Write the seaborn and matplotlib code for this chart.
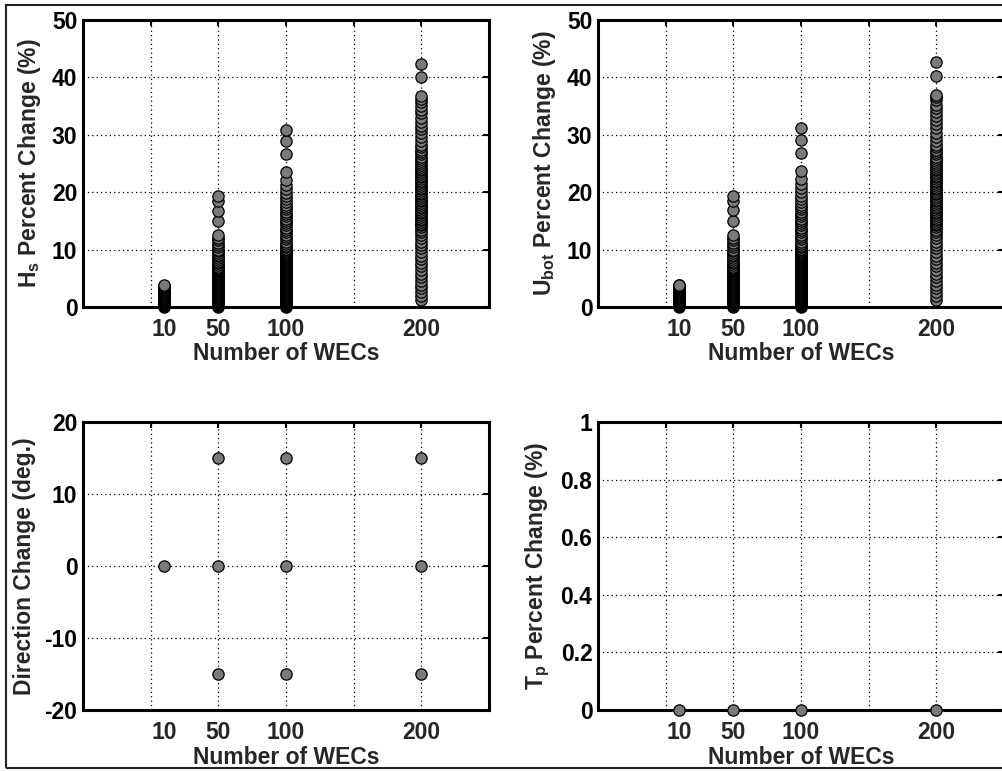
import matplotlib
matplotlib.use("Agg")
import matplotlib.pyplot as plt
import seaborn as sns
import pandas as pd
from matplotlib.ticker import FuncFormatter
from matplotlib.patches import Rectangle

# ---------------- data ----------------
wec_ticks = [10, 50, 100, 200]
wec_tick_labels = ["10", "50", "100", "200"]

hs_10 = [0.0, 0.1, 0.2, 0.3, 0.35, 0.45, 0.55, 0.6, 0.7, 0.8, 0.9, 1.0, 1.1, 1.2, 1.3,
         1.4, 1.5, 1.6, 1.7, 1.8, 1.9, 2.0, 2.1, 2.2, 2.3, 2.4, 2.5, 2.6, 2.7, 2.8,
         2.9, 3.0, 3.1, 3.2, 3.3, 3.4, 3.5, 3.6, 3.7, 3.8]
hs_50 = [0.0, 0.1, 0.2, 0.3, 0.4, 0.5, 0.6, 0.7, 0.8, 0.9, 1.0, 1.1, 1.2, 1.3, 1.4,
         1.5, 1.6, 1.7, 1.8, 1.9, 2.0, 2.1, 2.2, 2.3, 2.4, 2.5, 2.6, 2.7, 2.8, 2.9,
         3.0, 3.1, 3.2, 3.3, 3.4, 3.5, 3.6, 3.7, 3.8, 3.9, 4.0, 4.1, 4.2, 4.3, 4.4,
         4.5, 4.6, 4.7, 4.8, 4.9, 5.0, 5.1, 5.2, 5.3, 5.4, 5.5, 5.6, 5.7, 5.8, 5.9,
         6.0, 6.1, 6.2, 6.3, 6.4, 6.5, 6.6, 6.7, 6.8, 6.9, 7.0, 7.3, 7.6, 7.9, 8.2,
         8.5, 8.8, 9.1, 9.4, 9.7, 10.0, 10.4, 10.8, 11.2, 11.6, 12.0, 12.5,
         14.9, 16.8, 18.4, 19.3]
hs_100 = [0.0, 0.1, 0.2, 0.3, 0.4, 0.5, 0.6, 0.7, 0.8, 0.9, 1.0, 1.1, 1.2, 1.3, 1.4,
          1.5, 1.6, 1.7, 1.8, 1.9, 2.0, 2.1, 2.2, 2.3, 2.4, 2.5, 2.6, 2.7, 2.8, 2.9,
          3.0, 3.1, 3.2, 3.3, 3.4, 3.5, 3.6, 3.7, 3.8, 3.9, 4.0, 4.1, 4.2, 4.3, 4.4,
          4.5, 4.6, 4.7, 4.8, 4.9, 5.0, 5.1, 5.2, 5.3, 5.4, 5.5, 5.6, 5.7, 5.8, 5.9,
          6.0, 6.1, 6.2, 6.3, 6.4, 6.5, 6.6, 6.7, 6.8, 6.9, 7.0, 7.1, 7.2, 7.3, 7.4,
          7.5, 7.6, 7.7, 7.8, 7.9, 8.0, 8.1, 8.2, 8.3, 8.4, 8.5, 8.6, 8.7, 8.8, 8.9,
          9.0, 9.15, 9.3, 9.45, 9.6, 9.75, 9.9, 10.1, 10.4, 10.7, 11.0, 11.4, 11.8,
          12.2, 12.6, 13.0, 13.4, 13.8, 14.2, 14.6, 15.0, 15.4, 15.8, 16.2, 16.6,
          17.0, 17.4, 17.8, 18.3, 18.8, 19.3, 19.9, 20.6, 21.3, 22.2, 23.6, 26.7,
          29.0, 30.9]
hs_200 = [1.3, 2.0, 2.6, 3.3, 3.9, 4.5, 5.2, 5.8, 6.4, 7.1, 7.7, 8.3, 8.9, 9.5, 10.2,
          10.8, 11.4, 12.0, 12.6, 13.1, 13.5, 13.9, 14.2, 14.5, 14.8, 15.1, 15.4,
          15.7, 16.0, 16.3, 16.6, 16.9, 17.2, 17.5, 17.8, 18.1, 18.4, 18.7, 19.0,
          19.3, 19.6, 19.9, 20.2, 20.5, 20.8, 21.1, 21.4, 21.7, 22.0, 22.3, 22.6,
          22.9, 23.2, 23.5, 23.8, 24.1, 24.4, 24.7, 25.0, 25.4, 25.8, 26.2, 26.6,
          27.0, 27.4, 27.8, 28.3, 29.0, 29.6, 30.3, 31.0, 31.6, 32.3, 33.0, 33.8,
          34.4, 35.0, 35.8, 36.3, 36.8, 40.0, 42.3]

ub_10 = [0.0, 0.1, 0.2, 0.3, 0.4, 0.5, 0.6, 0.7, 0.8, 0.9, 1.0, 1.1, 1.2, 1.3, 1.4,
         1.5, 1.6, 1.7, 1.8, 1.9, 2.0, 2.1, 2.2, 2.3, 2.4, 2.5, 2.6, 2.7, 2.8, 2.9,
         3.0, 3.1, 3.2, 3.3, 3.4, 3.5, 3.6, 3.7, 3.8, 3.9]
ub_50 = [0.0, 0.1, 0.2, 0.3, 0.4, 0.5, 0.6, 0.7, 0.8, 0.9, 1.0, 1.1, 1.2, 1.3, 1.4,
         1.5, 1.6, 1.7, 1.8, 1.9, 2.0, 2.1, 2.2, 2.3, 2.4, 2.5, 2.6, 2.7, 2.8, 2.9,
         3.0, 3.1, 3.2, 3.3, 3.4, 3.5, 3.6, 3.7, 3.8, 3.9, 4.0, 4.1, 4.2, 4.3, 4.4,
         4.5, 4.6, 4.7, 4.8, 4.9, 5.0, 5.1, 5.2, 5.3, 5.4, 5.5, 5.6, 5.7, 5.8, 5.9,
         6.0, 6.1, 6.2, 6.3, 6.4, 6.5, 6.6, 6.7, 6.8, 6.9, 7.0, 7.3, 7.6, 7.9, 8.2,
         8.5, 8.8, 9.1, 9.4, 9.7, 10.0, 10.4, 10.8, 11.2, 11.7, 12.1, 12.6,
         15.0, 16.9, 18.5, 19.4]
ub_100 = [0.0, 0.1, 0.2, 0.3, 0.4, 0.5, 0.6, 0.7, 0.8, 0.9, 1.0, 1.1, 1.2, 1.3, 1.4,
          1.5, 1.6, 1.7, 1.8, 1.9, 2.0, 2.1, 2.2, 2.3, 2.4, 2.5, 2.6, 2.7, 2.8, 2.9,
          3.0, 3.1, 3.2, 3.3, 3.4, 3.5, 3.6, 3.7, 3.8, 3.9, 4.0, 4.1, 4.2, 4.3, 4.4,
          4.5, 4.6, 4.7, 4.8, 4.9, 5.0, 5.1, 5.2, 5.3, 5.4, 5.5, 5.6, 5.7, 5.8, 5.9,
          6.0, 6.1, 6.2, 6.3, 6.4, 6.5, 6.6, 6.7, 6.8, 6.9, 7.0, 7.1, 7.2, 7.3, 7.4,
          7.5, 7.6, 7.7, 7.8, 7.9, 8.0, 8.1, 8.2, 8.3, 8.4, 8.5, 8.6, 8.7, 8.8, 8.9,
          9.0, 9.15, 9.3, 9.45, 9.6, 9.75, 9.9, 10.1, 10.4, 10.7, 11.0, 11.4, 11.8,
          12.2, 12.6, 13.0, 13.4, 13.8, 14.2, 14.6, 15.0, 15.4, 15.8, 16.2, 16.6,
          17.0, 17.4, 17.8, 18.3, 18.8, 19.4, 20.0, 20.7, 21.4, 22.3, 23.7, 26.8,
          29.1, 31.1]
ub_200 = [1.3, 2.0, 2.6, 3.3, 3.9, 4.5, 5.2, 5.8, 6.4, 7.1, 7.7, 8.3, 8.9, 9.5, 10.2,
          10.8, 11.4, 12.0, 12.6, 13.1, 13.5, 13.9, 14.2, 14.5, 14.8, 15.1, 15.4,
          15.7, 16.0, 16.3, 16.6, 16.9, 17.2, 17.5, 17.8, 18.1, 18.4, 18.7, 19.0,
          19.3, 19.6, 19.9, 20.2, 20.5, 20.8, 21.1, 21.4, 21.7, 22.0, 22.3, 22.6,
          22.9, 23.2, 23.5, 23.8, 24.1, 24.4, 24.7, 25.0, 25.4, 25.8, 26.2, 26.6,
          27.0, 27.4, 27.8, 28.3, 29.0, 29.7, 30.4, 31.1, 31.8, 32.5, 33.2, 34.0,
          34.6, 35.2, 36.0, 36.5, 37.0, 40.2, 42.6]

dir_wecs = [10, 50, 50, 50, 100, 100, 100, 200, 200, 200]
dir_vals = [0, -15, 0, 15, -15, 0, 15, -15, 0, 15]

tp_wecs = [10, 50, 100, 200]
tp_vals = [0, 0, 0, 0]

# ---------------- styling ----------------
sns.set_theme(style="white")
plt.rcParams["font.family"] = ["Liberation Sans", "DejaVu Sans"]
plt.rcParams["font.weight"] = "bold"
plt.rcParams["axes.labelweight"] = "bold"
plt.rcParams["mathtext.fontset"] = "custom"
plt.rcParams["mathtext.rm"] = "Liberation Sans:bold"
plt.rcParams["mathtext.bf"] = "Liberation Sans:bold"
plt.rcParams["mathtext.it"] = "Liberation Sans:bold"
plt.rcParams["mathtext.default"] = "bf"

FS = 16.5
W, H = 1002, 771
fig = plt.figure(figsize=(W / 100, H / 100), dpi=100)

def frac_axes(left, top, right, bottom):
    return fig.add_axes([left / W, 1 - bottom / H, (right - left) / W, (bottom - top) / H])

ax_hs = frac_axes(83, 20, 489, 307)
ax_ub = frac_axes(598, 20, 1004, 307)
ax_dir = frac_axes(83, 422, 489, 710)
ax_tp = frac_axes(598, 422, 1004, 710)

def long_df(groups, values):
    xs, ys = [], []
    for g, vals in zip(groups, values):
        xs += [g] * len(vals)
        ys += list(vals)
    return pd.DataFrame({"wecs": xs, "val": ys})

marker_kw = dict(color="#7a7a7a", edgecolor="black", linewidth=0.9, s=66,
                 clip_on=False, zorder=5, legend=False)

df_hs = long_df(wec_ticks, [hs_10, hs_50, hs_100, hs_200])
df_ub = long_df(wec_ticks, [ub_10, ub_50, ub_100, ub_200])
df_dir = pd.DataFrame({"wecs": dir_wecs, "val": dir_vals})
df_tp = pd.DataFrame({"wecs": tp_wecs, "val": tp_vals})

sns.scatterplot(data=df_hs, x="wecs", y="val", ax=ax_hs, **marker_kw)
sns.scatterplot(data=df_ub, x="wecs", y="val", ax=ax_ub, **marker_kw)
sns.scatterplot(data=df_dir, x="wecs", y="val", ax=ax_dir, **marker_kw)
sns.scatterplot(data=df_tp, x="wecs", y="val", ax=ax_tp, **marker_kw)

setup = [
    (ax_hs, (0, 50), [0, 10, 20, 30, 40, 50], r"H$_s$ Percent Change (%)"),
    (ax_ub, (0, 50), [0, 10, 20, 30, 40, 50], r"U$_{bot}$ Percent Change (%)"),
    (ax_dir, (-20, 20), [-20, -10, 0, 10, 20], "Direction Change (deg.)"),
    (ax_tp, (0, 1), [0, 0.2, 0.4, 0.6, 0.8, 1.0], r"T$_p$ Percent Change (%)"),
]

for ax, ylim, yticks, ylabel in setup:
    ax.set_xlim(-50, 250)
    ax.set_ylim(*ylim)
    ax.set_xticks([0, 50, 100, 150, 200])
    ax.set_xticklabels([""] * 5)
    ax.xaxis.remove_overlapping_locs = False
    ax.set_xticks(wec_ticks, minor=True)
    ax.set_xticklabels(wec_tick_labels, minor=True, fontsize=FS, fontweight="bold")
    ax.set_yticks(yticks)
    ax.yaxis.set_major_formatter(FuncFormatter(lambda v, p: "%g" % v))
    for lab in ax.get_yticklabels():
        lab.set_fontsize(FS)
        lab.set_fontweight("bold")
    ax.tick_params(axis="both", which="major", direction="in", length=4, width=1.5,
                   top=True, right=True, colors="black", labelsize=FS, pad=4)
    ax.tick_params(axis="x", which="minor", length=0, pad=8, labelsize=FS)
    ax.tick_params(axis="x", which="major", pad=0)
    ax.grid(True, which="major", linestyle=(0, (1, 2.5)), color="black", linewidth=0.9)
    ax.grid(False, which="minor")
    ax.set_axisbelow(True)
    for sp in ax.spines.values():
        sp.set_visible(True)
        sp.set_color("black")
        sp.set_linewidth(2.2)
    ax.set_xlabel("Number of WECs", fontsize=FS, fontweight="bold", labelpad=1)
    ax.set_ylabel(ylabel, fontsize=FS, fontweight="bold", labelpad=6)

fig.patches.append(Rectangle((6 / W, 1 - 768 / H), 1.2, (768 - 5) / H,
                             transform=fig.transFigure, fill=False,
                             edgecolor="#222222", linewidth=1.5))

fig.savefig("out.png", dpi=100)
